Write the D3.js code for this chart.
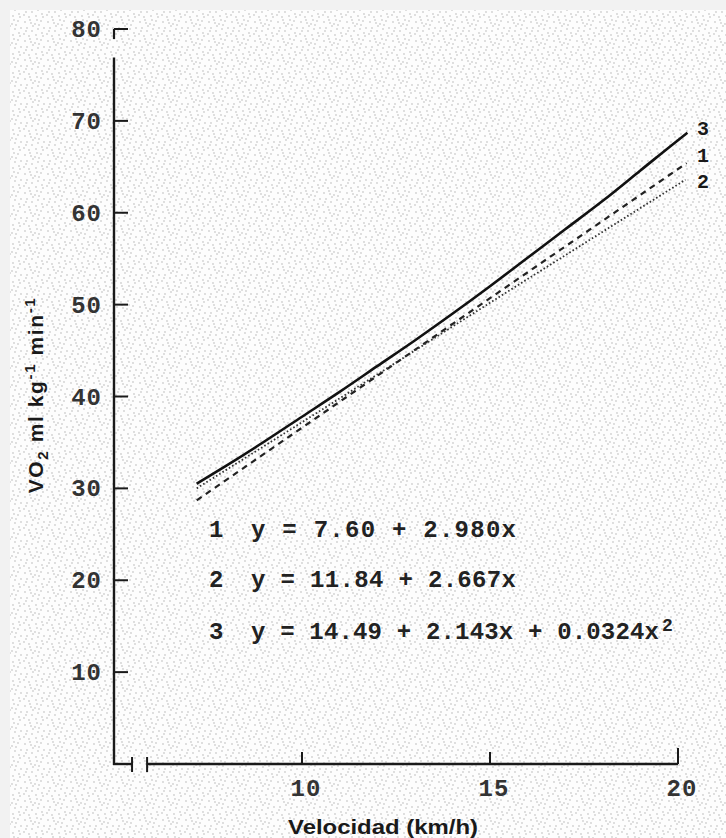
<!DOCTYPE html>
<html><head><meta charset="utf-8">
<script src="https://cdn.jsdelivr.net/npm/d3@7"></script>
<style>body{margin:0;background:#f2f2f2} svg{display:block}</style>
</head><body>
<svg id="c" width="726" height="838"></svg>
<script>
// ---- data ----
const yTicks = [10, 20, 30, 40, 50, 60, 70, 80];
const xTicks = [10, 15, 20];
const speed3 = [7.2, 8, 9, 10, 11, 12, 13, 14, 15, 16, 17, 18, 19, 20, 20.25];
const vo2_3  = [30.5, 32.5, 35.1, 37.8, 40.5, 43.3, 46.1, 49.0, 52.0, 55.1, 58.2, 61.3, 64.6, 67.9, 68.7];
const speed1 = [7.2, 10, 15, 20.23];
const vo2_1  = [28.7, 36.6, 50.7, 65.4];
const speed2 = [7.2, 10, 15, 20.2];
const vo2_2  = [30.0, 37.2, 50.2, 63.6];
const endLabels = ["3", "1", "2"];
const eqNumbers = ["1", "2", "3"];
const equations = ["y = 7.60 + 2.980x", "y = 11.84 + 2.667x", "y = 14.49 + 2.143x + 0.0324x"];
const xTitle = "Velocidad (km/h)";

// ---- layout ----
const svg = d3.select("#c");
const W = 726, H = 838;
const x = d3.scaleLinear().domain([5, 20]).range([114, 678]);
const y = d3.scaleLinear().domain([0, 80]).range([764, 29]);
const mono = "'Liberation Mono', 'DejaVu Sans Mono', monospace";
const sans = "'Liberation Sans', Arial, sans-serif";
const ink = "#1a1a1a";

// stipple background
const defs = svg.append("defs");
const pat = defs.append("pattern").attr("id", "stip").attr("width", 23).attr("height", 19)
  .attr("patternUnits", "userSpaceOnUse");
pat.append("rect").attr("width", 23).attr("height", 19).attr("fill", "#fdfdfd");
const dots = [[2,3],[7,1],[12,5],[18,2],[21,9],[4,9],[9,12],[15,10],[1,15],[6,17],[13,16],[19,14],[10,7],[16,6],[3,12],[20,17],[8,4],[14,1]];
pat.selectAll("circle").data(dots).join("circle")
  .attr("cx", d => d[0]).attr("cy", d => d[1]).attr("r", 0.65).attr("fill", "#a8a8a8");
svg.append("rect").attr("x", 10).attr("y", 10).attr("width", W - 10).attr("height", H - 10)
  .attr("fill", "url(#stip)");

const g = svg.append("g");

// y axis with small break near top
const yBreak = [78.9, 76.9];
g.append("line").attr("x1", x(5)).attr("x2", x(5)).attr("y1", y(80)).attr("y2", y(yBreak[0]))
  .attr("stroke", ink).attr("stroke-width", 2.2);
g.append("line").attr("x1", x(5)).attr("x2", x(5)).attr("y1", y(yBreak[1])).attr("y2", y(0) + 1)
  .attr("stroke", ink).attr("stroke-width", 2.4);
g.selectAll(".ytick").data(yTicks).join("line")
  .attr("x1", x(5)).attr("x2", x(5) + 14).attr("y1", d => y(d)).attr("y2", d => y(d))
  .attr("stroke", ink).attr("stroke-width", 2);
g.selectAll(".ylab").data(yTicks).join("text")
  .attr("x", 102).attr("y", d => y(d) + 8).attr("text-anchor", "end")
  .attr("font-family", mono).attr("font-size", 24).attr("font-weight", "bold")
  .attr("fill", "#333").attr("letter-spacing", 1)
  .text(d => d);

// x axis with break
const xBreak = [5.48, 5.88];
g.append("line").attr("x1", x(5) - 1).attr("x2", x(xBreak[0])).attr("y1", y(0)).attr("y2", y(0))
  .attr("stroke", ink).attr("stroke-width", 2.4);
g.append("line").attr("x1", x(xBreak[1])).attr("x2", x(20)).attr("y1", y(0)).attr("y2", y(0))
  .attr("stroke", ink).attr("stroke-width", 2.4);
g.selectAll(".xbrk").data(xBreak).join("line")
  .attr("x1", d => x(d)).attr("x2", d => x(d)).attr("y1", y(0) - 7).attr("y2", y(0) + 8)
  .attr("stroke", ink).attr("stroke-width", 2);
g.selectAll(".xtick").data(xTicks).join("line")
  .attr("x1", d => x(d)).attr("x2", d => x(d)).attr("y1", y(0)).attr("y2", d => y(0) - (d === 20 ? 16 : 12))
  .attr("stroke", ink).attr("stroke-width", 2);
g.selectAll(".xlab").data(xTicks).join("text")
  .attr("x", d => x(d) + 4).attr("y", 796).attr("text-anchor", "middle")
  .attr("font-family", mono).attr("font-size", 24).attr("font-weight", "bold")
  .attr("fill", "#333").attr("letter-spacing", 1)
  .text(d => d);

// axis titles
g.append("text").attr("x", 383).attr("y", 834).attr("text-anchor", "middle")
  .attr("font-family", sans).attr("font-size", 21).attr("font-weight", "bold").attr("fill", ink)
  .attr("textLength", 190).attr("lengthAdjust", "spacingAndGlyphs")
  .text(xTitle);
const yt = g.append("text").attr("transform", "translate(43,395) rotate(-90)")
  .attr("text-anchor", "middle").attr("font-family", sans).attr("font-size", 21)
  .attr("font-weight", "bold").attr("fill", ink).attr("letter-spacing", 1.6);
yt.append("tspan").text("VO");
yt.append("tspan").attr("font-size", 15).attr("dy", 5).text("2");
yt.append("tspan").attr("dy", -5).text(" ml kg");
yt.append("tspan").attr("font-size", 15).attr("dy", -8).text("-1");
yt.append("tspan").attr("dy", 8).text("  min");
yt.append("tspan").attr("font-size", 15).attr("dy", -8).text("-1");

// lines
const line = d3.line().x(d => x(d[0])).y(d => y(d[1])).curve(d3.curveMonotoneX);
g.append("path").datum(d3.zip(speed3, vo2_3)).attr("d", line)
  .attr("fill", "none").attr("stroke", "#111").attr("stroke-width", 2.6);
g.append("path").datum(d3.zip(speed1, vo2_1)).attr("d", line)
  .attr("fill", "none").attr("stroke", "#222").attr("stroke-width", 2.2).attr("stroke-dasharray", "6,5");
g.append("path").datum(d3.zip(speed2, vo2_2)).attr("d", line)
  .attr("fill", "none").attr("stroke", "#333").attr("stroke-width", 1.8).attr("stroke-dasharray", "1.6,2.2");

// end labels
const endVals = [vo2_3[vo2_3.length - 1], vo2_1[vo2_1.length - 1], vo2_2[vo2_2.length - 1]];
const endDy = [2, -1, 8];
g.selectAll(".endlab").data(endLabels).join("text")
  .attr("x", 703).attr("y", (d, i) => y(endVals[i]) + endDy[i])
  .attr("text-anchor", "middle").attr("font-family", mono).attr("font-size", 20).attr("font-weight", "bold")
  .attr("fill", ink).text(d => d);

// equations
const eqY = [537, 587, 639];
const eqLen = [265, 265, 408];
g.selectAll(".eqn").data(eqNumbers).join("text")
  .attr("x", 209).attr("y", (d, i) => eqY[i])
  .attr("font-family", mono).attr("font-size", 24).attr("font-weight", "bold").attr("fill", "#222")
  .text(d => d);
g.selectAll(".eq").data(equations).join("text")
  .attr("x", 251).attr("y", (d, i) => eqY[i])
  .attr("font-family", mono).attr("font-size", 24).attr("font-weight", "bold").attr("fill", "#222")
  .attr("textLength", (d, i) => eqLen[i]).attr("lengthAdjust", "spacing")
  .text(d => d);
g.append("text").attr("x", 662).attr("y", 631)
  .attr("font-family", mono).attr("font-size", 18).attr("font-weight", "bold").attr("fill", "#222")
  .text("2");
</script>
</body></html>
